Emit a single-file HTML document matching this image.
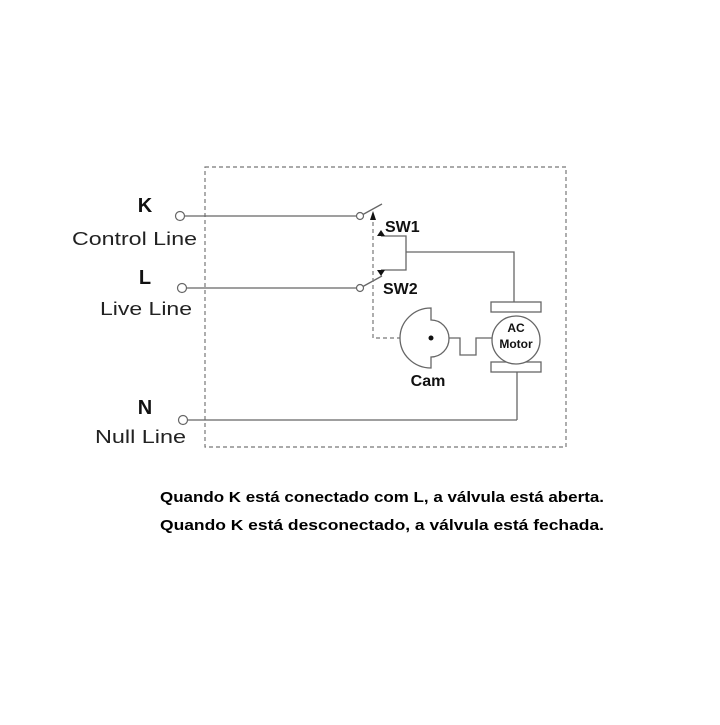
<!DOCTYPE html>
<html><head><meta charset="utf-8"><style>html,body{margin:0;padding:0;background:#fff}</style></head>
<body>
<svg width="720" height="720" viewBox="0 0 720 720" xmlns="http://www.w3.org/2000/svg" font-family="Liberation Sans, sans-serif">
<rect width="720" height="720" fill="#fff"/>
<rect x="205" y="167" width="361" height="280" fill="none" stroke="#777" stroke-width="1.2" stroke-dasharray="4,3"/>
<g stroke="#666" stroke-width="1.3" fill="none">
<line x1="184" y1="216" x2="357" y2="216"/>
<line x1="186" y1="288" x2="357" y2="288"/>
<line x1="187" y1="420" x2="517" y2="420"/>
<line x1="517" y1="372" x2="517" y2="420"/>
<line x1="362" y1="215" x2="382" y2="204"/>
<line x1="362" y1="287" x2="382" y2="276"/>
<polyline points="381,236 406,236 406,270 381,270"/>
<polyline points="406,252 514,252 514,302"/>
<polyline points="449,338 460,338 460,355 476,355 476,338 492,338"/>
</g>
<g stroke="#666" stroke-width="1.2" fill="#fff">
<circle cx="180" cy="216" r="4.5"/>
<circle cx="182" cy="288" r="4.5"/>
<circle cx="183" cy="420" r="4.5"/>
<circle cx="360" cy="216" r="3.5"/>
<circle cx="360" cy="288" r="3.5"/>
</g>
<polyline points="373,222 373,338 400,338" fill="none" stroke="#777" stroke-width="1.2" stroke-dasharray="4,3"/>
<polygon points="373,211 370,220 376,220" fill="#111"/>
<polygon points="381,230 377,236 385,236" fill="#111"/>
<polygon points="381,276 377,270 385,270" fill="#111"/>
<g stroke="#666" stroke-width="1.3" fill="#fff">
<rect x="491" y="302" width="50" height="10"/>
<rect x="491" y="362" width="50" height="10"/>
<circle cx="516" cy="340" r="24"/>
<path d="M431,308 L431,320 A18,18.5 0 0 1 431,357 L431,368 A31,30 0 0 1 431,308 Z"/>
</g>
<circle cx="431" cy="338" r="2.5" fill="#111"/>
<g font-weight="bold" fill="#111">
<text x="385" y="232" font-size="16">SW1</text>
<text x="383" y="294" font-size="16">SW2</text>
<text x="428" y="386" font-size="16" text-anchor="middle">Cam</text>
<text x="516" y="332" font-size="12" text-anchor="middle">AC</text>
<text x="516" y="348" font-size="12" text-anchor="middle">Motor</text>
<text x="145" y="212" font-size="20" text-anchor="middle">K</text>
<text x="145" y="284" font-size="20" text-anchor="middle">L</text>
<text x="145" y="414" font-size="20" text-anchor="middle">N</text>
</g>
<g fill="#222" font-size="18">
<text x="72" y="245" textLength="125" lengthAdjust="spacingAndGlyphs">Control Line</text>
<text x="100" y="315" textLength="92" lengthAdjust="spacingAndGlyphs">Live Line</text>
<text x="95" y="443" textLength="91" lengthAdjust="spacingAndGlyphs">Null Line</text>
</g>
<g fill="#000" font-weight="bold" font-size="15">
<text x="160" y="502" textLength="444" lengthAdjust="spacingAndGlyphs">Quando K está conectado com L, a válvula está aberta.</text>
<text x="160" y="530" textLength="444" lengthAdjust="spacingAndGlyphs">Quando K está desconectado, a válvula está fechada.</text>
</g>
</svg>
</body></html>
